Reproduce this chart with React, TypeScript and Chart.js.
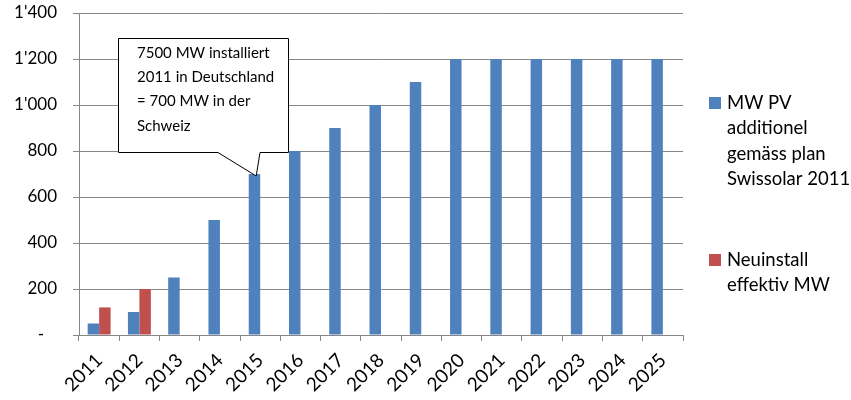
import React, { useEffect, useRef } from "react";
import { Chart, registerables } from "chart.js";

Chart.register(...registerables);

const categories = ["2011", "2012", "2013", "2014", "2015", "2016", "2017", "2018", "2019", "2020", "2021", "2022", "2023", "2024", "2025"];
const plannedMW = [50, 100, 250, 500, 700, 800, 900, 1000, 1100, 1200, 1200, 1200, 1200, 1200, 1200];
const actualMW: (number | null)[] = [120, 200, null, null, null, null, null, null, null, null, null, null, null, null, null];
const yTickValues = [0, 200, 400, 600, 800, 1000, 1200, 1400];
const plannedLabel = ["MW PV", "additionel", "gemäss plan", "Swissolar 2011"];
const actualLabel = ["Neuinstall", "effektiv MW"];
const calloutLines = ["7500 MW installiert", "2011 in Deutschland", "= 700 MW in der", "Schweiz"];
const calloutIndex = 4;
const calloutValue = 700;

const BLUE = "#4F81BD";
const RED = "#C0504D";
const GRID = "#868686";
const FONT = "Lato, 'Open Sans', sans-serif";

const fmt = (v: number) => (v === 0 ? "-   " : String(v).replace(/\B(?=(\d{3})+(?!\d))/g, "'"));

const overlayPlugin = {
  id: "overlay",
  afterDatasetsDraw(chart: any) {
    const ctx = chart.ctx as CanvasRenderingContext2D;
    const xs = chart.scales.x;
    const ys = chart.scales.y;
    // callout
    const tipX = xs.getPixelForValue(calloutIndex) - 4;
    const tipY = ys.getPixelForValue(calloutValue) + 2;
    const L = 118.5, R = 288.5, T = 38.5, B = 152.5;
    ctx.save();
    ctx.beginPath();
    ctx.moveTo(L, T);
    ctx.lineTo(R, T);
    ctx.lineTo(R, B);
    ctx.lineTo(260, B);
    ctx.lineTo(tipX, tipY);
    ctx.lineTo(218, B);
    ctx.lineTo(L, B);
    ctx.closePath();
    ctx.fillStyle = "#ffffff";
    ctx.fill();
    ctx.strokeStyle = "#000000";
    ctx.lineWidth = 1;
    ctx.stroke();
    ctx.fillStyle = "#000000";
    ctx.font = `15px ${FONT}`;
    ctx.textBaseline = "middle";
    ctx.textAlign = "left";
    calloutLines.forEach((t, i) => ctx.fillText(t, 137, 53 + i * 24.3));

    // legend
    ctx.font = `18.5px ${FONT}`;
    const drawEntry = (color: string, lines: string[], y0: number) => {
      ctx.fillStyle = color;
      ctx.fillRect(709, y0 - 6, 12, 12);
      ctx.fillStyle = "#000000";
      lines.forEach((t, i) => ctx.fillText(t, 727, y0 + i * 25.3));
    };
    drawEntry(BLUE, plannedLabel, 103);
    drawEntry(RED, actualLabel, 260);
    ctx.restore();
  },
};

export default function App() {
  const ref = useRef<HTMLCanvasElement>(null);
  useEffect(() => {
    if (!ref.current) return;
    const chart = new Chart(ref.current, {
      type: "bar",
      data: {
        labels: categories,
        datasets: [
          { label: plannedLabel.join(" "), data: plannedMW, backgroundColor: BLUE },
          { label: actualLabel.join(" "), data: actualMW, backgroundColor: RED },
        ],
      },
      options: {
        responsive: false,
        animation: false,
        layout: { padding: { left: 0, right: 168, top: 13, bottom: 0 } },
        datasets: { bar: { categoryPercentage: 0.57, barPercentage: 1 } },
        plugins: { legend: { display: false }, tooltip: { enabled: false } },
        scales: {
          x: {
            grid: { display: true, drawOnChartArea: false, drawTicks: true, tickLength: 6, color: GRID, offset: true },
            border: { color: GRID },
            ticks: { color: "#000", font: { family: FONT, size: 19 }, minRotation: 45, maxRotation: 45, padding: 8 },
            afterFit: (s: any) => { s.height = 65; s.paddingLeft = 0; s.paddingRight = 0; },
          },
          y: {
            min: 0,
            max: 1400,
            afterBuildTicks: (s: any) => { s.ticks = yTickValues.map((v) => ({ value: v })); },
            grid: { color: GRID, tickLength: 6 },
            border: { color: GRID },
            ticks: { color: "#000", font: { family: FONT, size: 17 }, padding: 16, callback: (v: any) => fmt(Number(v)) },
            afterFit: (s: any) => { s.width = 79; s.paddingTop = 0; s.paddingBottom = 0; },
          },
        },
      },
      plugins: [overlayPlugin],
    });
    return () => chart.destroy();
  }, []);
  return (
    <div style={{ position: "fixed", left: 0, top: 0, width: 851, height: 400, background: "#fff" }}>
      <canvas ref={ref} width={851} height={400} style={{ display: "block" }} />
    </div>
  );
}
